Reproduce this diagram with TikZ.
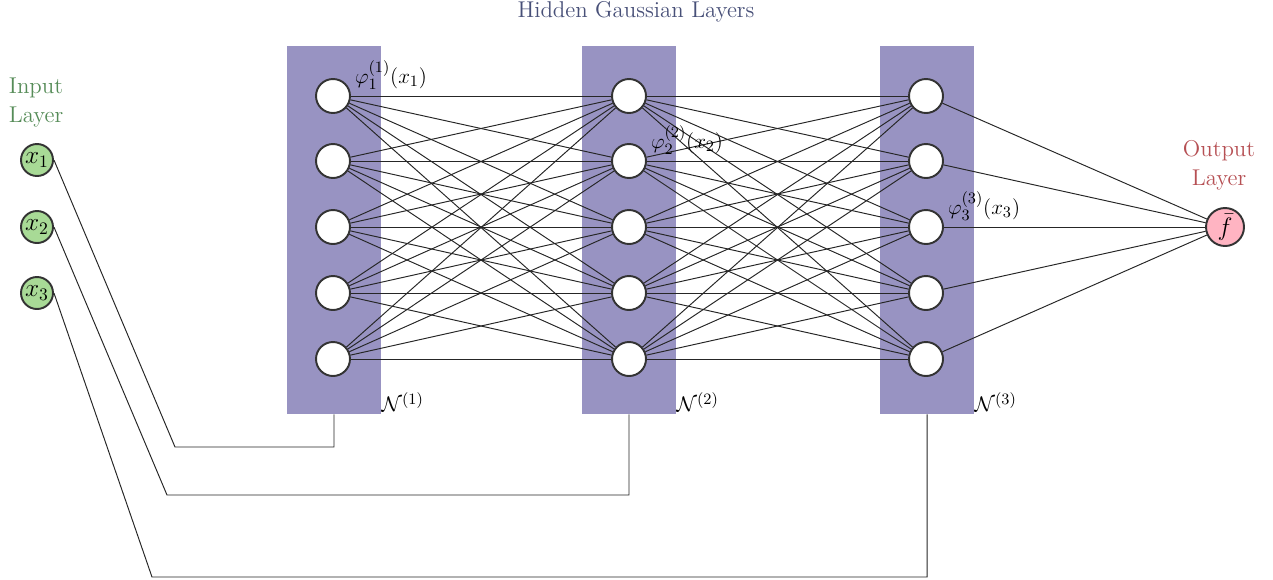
\documentclass[tikz,border=0pt]{standalone}
\usepackage{amsmath, amssymb}
\usetikzlibrary{positioning, calc}
\definecolor{bandpurple}{RGB}{152,147,194}
\definecolor{ingreen}{RGB}{168,218,150}
\definecolor{outpink}{RGB}{255,180,194}
\definecolor{intext}{RGB}{86,140,88}
\definecolor{hidtext}{RGB}{72,80,120}
\definecolor{outtext}{RGB}{182,80,84}
\tikzset{
  inputnode/.style  = {circle, draw=black!80, line width=1.1pt, fill=ingreen,
                       minimum size=6.4mm, inner sep=0pt, font=\Large},
  hiddennode/.style = {circle, draw=black!80, line width=1.1pt, fill=white,
                       minimum size=6.8mm, inner sep=0pt},
  outputnode/.style = {circle, draw=black!80, line width=1.1pt, fill=outpink,
                       minimum size=7.6mm, inner sep=0pt, font=\Large},
  band/.style       = {rectangle, fill=bandpurple, minimum width=18.8mm,
                       minimum height=73.6mm, inner sep=0pt},
  conn/.style       = {black!85, line width=0.55pt},
  layertitle/.style = {align=center, font=\fontsize{13}{16.5}\selectfont},
  philabel/.style   = {anchor=base west, inner sep=0pt, xshift=1.8mm,
                       font=\fontsize{12.5}{15}\selectfont},
  netlabel/.style   = {anchor=base west, inner sep=0pt, yshift=0.5mm,
                       font=\fontsize{12.5}{15}\selectfont},
}
\begin{document}
\begin{tikzpicture}[x=0.02cm, y=-0.02cm]
  \useasboundingbox (0,0) rectangle (1273,579);

  % purple bands behind the hidden layers
  \node[band] (band1) at (334,230) {};
  \node[band] (band2) at (629,230) {};
  \node[band] (band3) at (927,230) {};

  % input layer
  \node[inputnode] (in1) at (37,160) {$x_1$};
  \node[inputnode] (in2) at (37,227) {$x_2$};
  \node[inputnode] (in3) at (37,293) {$x_3$};

  % hidden layers
  \foreach \l/\x in {1/333, 2/629, 3/926}
    \foreach \i/\y in {1/96, 2/161, 3/227, 4/293, 5/359}
      \node[hiddennode] (h\l-\i) at (\x,\y) {};

  % output layer
  \node[outputnode] (out) at (1225,227) {$\bar{f}$};

  % connections
  \foreach \i in {1,...,5}
    \foreach \j in {1,...,5} {
      \draw[conn] (h1-\i) -- (h2-\j);
      \draw[conn] (h2-\i) -- (h3-\j);
    }
  \foreach \i in {1,...,5}
    \draw[conn] (h3-\i) -- (out);

  % inputs routed to the bands
  \coordinate (k1) at (175,447);
  \coordinate (k2) at (167,495);
  \coordinate (k3) at (152,577);
  \draw[conn] (in1.east) -- (k1) -- (k1 -| band1.south) -- (band1.south);
  \draw[conn] (in2.east) -- (k2) -- (k2 -| band2.south) -- (band2.south);
  \draw[conn] (in3.east) -- (k3) -- (k3 -| band3.south) -- (band3.south);

  % labels
  \node[philabel] (phi1) at (h1-1.north east) {$\varphi_1^{(1)}(x_1)$};
  \node[philabel] (phi2) at (h2-2.north east) {$\varphi_2^{(2)}(x_2)$};
  \node[philabel] (phi3) at (h3-3.north east) {$\varphi_3^{(3)}(x_3)$};
  \node[netlabel] (net1) at (band1.south east) {$\mathcal{N}^{(1)}$};
  \node[netlabel] (net2) at (band2.south east) {$\mathcal{N}^{(2)}$};
  \node[netlabel] (net3) at (band3.south east) {$\mathcal{N}^{(3)}$};

  \node[layertitle, text=intext]  (intitle)  at (36,103)  {Input\\Layer};
  \node[layertitle, text=hidtext] (hidtitle) at (636,12)  {Hidden Gaussian Layers};
  \node[layertitle, text=outtext] (outtitle) at (1219,165) {Output\\Layer};
\end{tikzpicture}
\end{document}
